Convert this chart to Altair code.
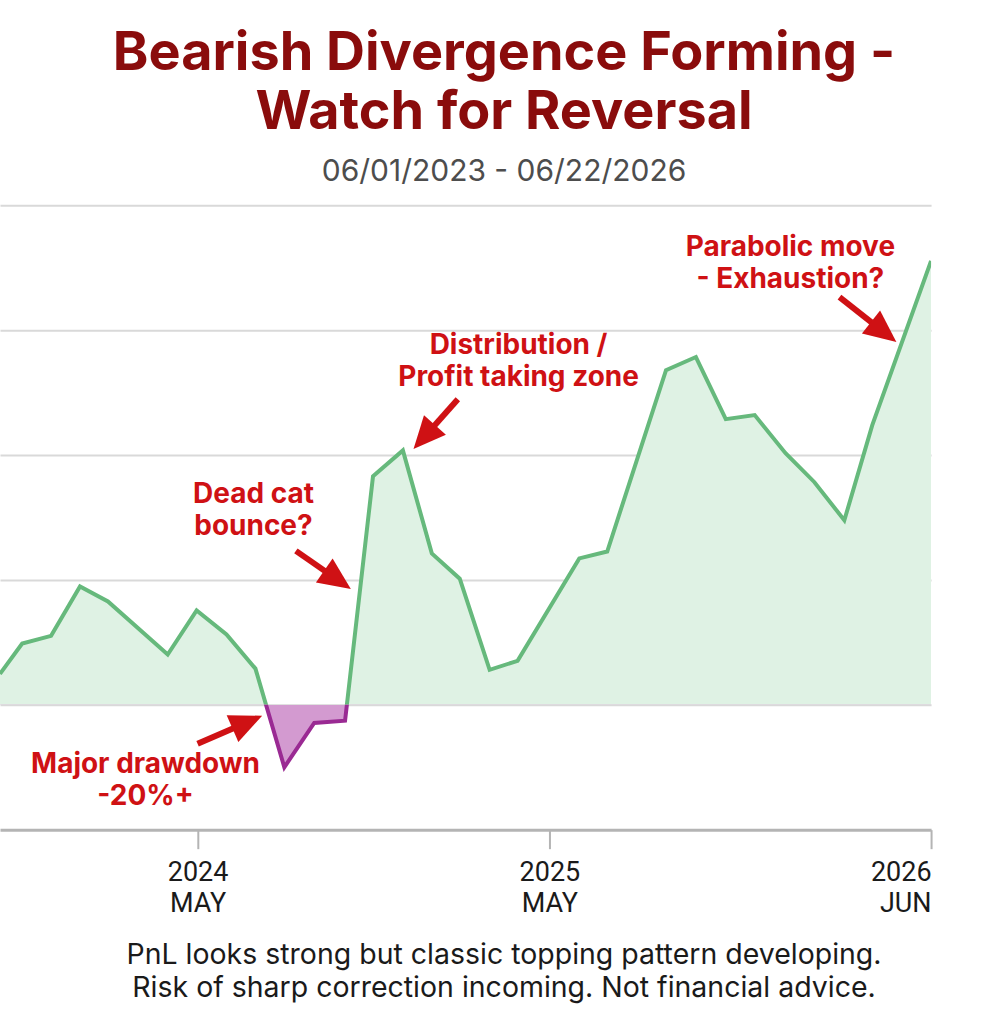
import math
from datetime import date

import altair as alt
import pandas as pd

# ---- PnL series -----------------------------------------------------------
dates = [
    "2023-10-09", "2023-11-01", "2023-12-01", "2023-12-31", "2024-01-29",
    "2024-03-31", "2024-04-30", "2024-05-31", "2024-06-30", "2024-07-30",
    "2024-08-30", "2024-10-01", "2024-10-30", "2024-11-30", "2024-12-30",
    "2025-01-28", "2025-02-28", "2025-03-29", "2025-06-01", "2025-06-30",
    "2025-08-30", "2025-09-30", "2025-10-31", "2025-11-30", "2026-01-01",
    "2026-01-31", "2026-03-03", "2026-04-01", "2026-06-01",
]
pnl = [
    9.9, 19.6, 22.1, 37.9, 33.1,
    16.1, 30.2, 22.5, 11.6, -20.0,
    -5.8, -5.1, 73.2, 81.5, 48.5,
    40.4, 11.2, 14.1, 46.9, 49.1,
    107.2, 111.4, 91.5, 92.8, 80.6,
    71.3, 59.1, 89.6, 142.2,
]

# ---- axis ticks -------------------------------------------------------------
tick_dates = ["2024-05-01", "2025-05-01", "2026-06-01"]
grid_values = [0, 40, 80, 120, 160]

# ---- callouts (position = first text line) -------------------------------------
note_text = [
    "Parabolic move\n- Exhaustion?",
    "Distribution /\nProfit taking zone",
    "Dead cat\nbounce?",
    "Major drawdown\n-20%+",
]
note_dates = ["2026-01-06", "2025-03-30", "2024-06-28", "2024-03-08"]
note_values = [146.2, 114.9, 67.2, -19.2]

arrow_tail_dates = ["2026-02-26", "2025-01-26", "2024-08-11", "2024-05-01"]
arrow_tail_values = [130.6, 97.9, 49.3, -12.5]
arrow_tip_dates = ["2026-04-26", "2024-12-11", "2024-10-07", "2024-07-07"]
arrow_tip_values = [116.2, 81.9, 37.1, -3.5]

# ---- layout / style -----------------------------------------------------------
X_START, X_END = dates[0], dates[-1]
W = 932
H_TOP, H_BOT = 500, 125
TOP_DOMAIN = [0, 160]
BOT_DOMAIN = [-40, 0]

GREEN_LINE = "#66b97c"
GREEN_FILL = "#dff2e4"
PURPLE_LINE = "#9a2a93"
PURPLE_FILL = "#d39ad0"
RED = "#cf1114"
TITLE_RED = "#8a0c0c"
GRID = "#d9d9d9"

HEAD_PATH = "M0,0L0.95,2.1L-0.95,2.1Z"  # arrowhead, tip at the origin
HEAD_SIZE = 950
SHAFT_BACK = 20  # shaft stops this many px before the tip


def to_date(s):
    y, m, d = (int(p) for p in s.split("-"))
    return date(y, m, d)


def dt(s):
    d = to_date(s)
    return alt.DateTime(year=d.year, month=d.month, date=d.day, utc=True)


px_per_day = W / (to_date(X_END) - to_date(X_START)).days
px_per_unit = H_TOP / (TOP_DOMAIN[1] - TOP_DOMAIN[0])

series = pd.DataFrame({"date": dates, "pnl": pnl})

notes = pd.DataFrame({"date": note_dates, "value": note_values, "text": note_text})

rows = []
for td, tv, hd, hv in zip(arrow_tail_dates, arrow_tail_values,
                          arrow_tip_dates, arrow_tip_values):
    dx = (to_date(hd) - to_date(td)).days * px_per_day
    dy = -(hv - tv) * px_per_unit  # screen y grows downward
    length = math.hypot(dx, dy)
    ang = math.degrees(math.atan2(dx, -dy)) % 360
    back_days = dx / length * SHAFT_BACK / px_per_day
    back_val = dy / length * SHAFT_BACK / px_per_unit
    end = pd.Timestamp(hd) - pd.Timedelta(days=back_days)
    rows.append({
        "tail_date": td, "tail_value": tv,
        "end_date": end.strftime("%Y-%m-%dT%H:%M:%S"), "end_value": hv + back_val,
        "tip_date": hd, "tip_value": hv, "angle": ang,
    })
arrows = pd.DataFrame(rows)

x_scale = alt.Scale(domain=[dt(X_START), dt(X_END)])


def panel(domain, height, line_color, fill_color, x_axis, y_axis, lower):
    y_scale = alt.Scale(domain=domain, nice=False, zero=False)
    base = alt.Chart(series).encode(
        x=alt.X("date:T", scale=x_scale, axis=x_axis, title=None),
    )
    area = base.mark_area(color=fill_color, opacity=1, clip=True).encode(
        y=alt.Y("pnl:Q", scale=y_scale, axis=y_axis, title=None),
        y2=alt.datum(0),
    )
    line = base.mark_line(color=line_color, strokeWidth=4, clip=True,
                          strokeJoin="miter").encode(
        y=alt.Y("pnl:Q", scale=y_scale),
    )

    sel = notes[(notes["value"] < 0) == lower]
    text = alt.Chart(sel).mark_text(
        color=RED, font="Inter", fontSize=28, fontWeight="bold",
        lineBreak="\n", lineHeight=32, align="center", baseline="middle",
    ).encode(
        x=alt.X("date:T", scale=x_scale),
        y=alt.Y("value:Q", scale=y_scale),
        text="text:N",
    )

    arr = arrows[(arrows["tip_value"] < 0) == lower]
    shaft = alt.Chart(arr).mark_rule(color=RED, strokeWidth=6).encode(
        x=alt.X("tail_date:T", scale=x_scale),
        y=alt.Y("tail_value:Q", scale=y_scale),
        x2="end_date:T",
        y2="end_value:Q",
    )
    head = alt.Chart(arr).mark_point(
        shape=HEAD_PATH, size=HEAD_SIZE, filled=True, color=RED,
        opacity=1, strokeWidth=0,
    ).encode(
        x=alt.X("tip_date:T", scale=x_scale),
        y=alt.Y("tip_value:Q", scale=y_scale),
        angle=alt.Angle("angle:Q", scale=None),
    )
    return alt.layer(area, line, text, shaft, head).properties(
        width=W, height=height
    )


top = panel(
    TOP_DOMAIN, H_TOP, GREEN_LINE, GREEN_FILL,
    x_axis=None,
    y_axis=alt.Axis(values=grid_values, grid=True, gridColor=GRID, gridWidth=2,
                    labels=False, ticks=False, domain=False),
    lower=False,
)

bottom = panel(
    BOT_DOMAIN, H_BOT, PURPLE_LINE, PURPLE_FILL,
    x_axis=alt.Axis(
        values=[dt(d) for d in tick_dates],
        labelExpr="[utcFormat(datum.value, '%Y'), upper(utcFormat(datum.value, '%b'))]",
        labelFont="Roboto", labelFontSize=27, labelColor="#1a1a1a",
        labelLineHeight=31, labelPadding=11, labelFlush=True,
        labelBaseline="top",
        grid=False, domainColor="#b4b4b4", domainWidth=3,
        tickColor="#b4b4b4", tickWidth=2, tickSize=19,
        title=["PnL looks strong but classic topping pattern developing.",
               "Risk of sharp correction incoming. Not financial advice."],
        titleFont="Inter", titleFontSize=28.5, titleFontWeight="normal",
        titleColor="#1a1a1a", titleLineHeight=33,
        titleX=504, titleY=134, titleAlign="center", titleBaseline="alphabetic",
        titleAnchor="start",
    ),
    y_axis=None,
    lower=True,
)

chart = alt.vconcat(top, bottom, spacing=0).properties(
    title=alt.TitleParams(
        text=["Bearish Divergence Forming -", "Watch for Reversal"],
        subtitle="06/01/2023 - 06/22/2026",
        font="Inter", fontSize=54, fontWeight="bold", color=TITLE_RED,
        lineHeight=59,
        subtitleFont="Inter", subtitleFontSize=30, subtitleColor="#4d4d4d",
        subtitleFontWeight="normal", subtitlePadding=17,
        anchor="middle", dx=38, offset=18,
    ),
    padding={"left": 0, "right": 76, "top": 27, "bottom": 10},
    background="white",
).configure_view(stroke=None).configure_concat(spacing=0)

chart.save("out.html", embed_options={"renderer": "svg", "actions": False})
